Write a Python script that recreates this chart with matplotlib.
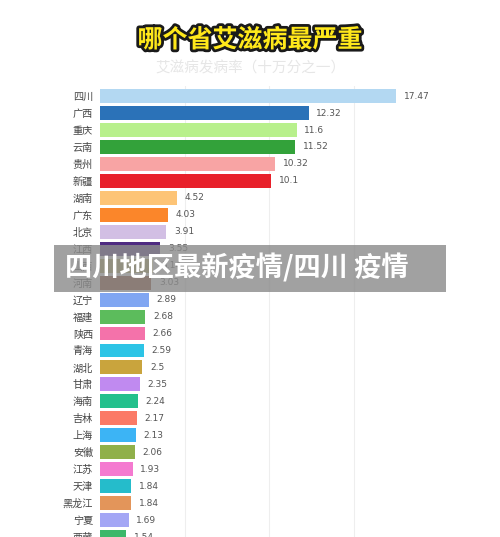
import matplotlib
matplotlib.use("Agg")
import matplotlib.pyplot as plt
import matplotlib.patheffects as pe
from matplotlib.patches import Rectangle

plt.rcParams['font.family'] = ['Noto Sans CJK SC', 'DejaVu Sans']

# data
provinces = ['四川', '广西', '重庆', '云南', '贵州', '新疆', '湖南', '广东', '北京',
             '江西', '山西', '河南', '辽宁', '福建', '陕西', '青海', '湖北', '甘肃',
             '海南', '吉林', '上海', '安徽', '江苏', '天津', '黑龙江', '宁夏', '西藏']
rates = [17.47, 12.32, 11.6, 11.52, 10.32, 10.1, 4.52, 4.03, 3.91,
         3.55, 3.14, 3.03, 2.89, 2.68, 2.66, 2.59, 2.5, 2.35,
         2.24, 2.17, 2.13, 2.06, 1.93, 1.84, 1.84, 1.69, 1.54]
colors = ['#b3d8f2', '#2b72b8', '#b8f08c', '#33a23a', '#f8a4a4', '#e8202a',
          '#fdc476', '#fb862a', '#d2bfe4', '#4e2a82', '#b0a24e', '#8a3f1a',
          '#80a6f2', '#5cbc5c', '#f472aa', '#2cc4e6', '#c9a43d', '#c08af0',
          '#24c08c', '#fb7a66', '#3cb4f5', '#90b04a', '#f47ad0', '#25bccb',
          '#e3955a', '#a3a6f5', '#3cb86a']

fig = plt.figure(figsize=(5.0, 5.37), dpi=100)
ax = fig.add_axes([0.2, 0.0, 0.8, 0.84])

ypos = list(range(len(provinces)))
ax.barh(ypos, rates, height=0.82, color=colors, zorder=2)
for y, v in zip(ypos, rates):
    ax.text(v + 0.45, y, f'{v:g}', va='center', ha='left', fontsize=6.5,
            color='#555555', family=['DejaVu Sans'])

ax.set_xlim(0, 23.6)
ax.set_ylim(26.0, -0.6)
ax.set_yticks(ypos)
ax.set_yticklabels(provinces, fontsize=7.3, color='#444444')
ax.tick_params(axis='y', length=0, pad=5)
ax.set_xticks([5, 10, 15])
ax.tick_params(axis='x', length=0, labelbottom=False)
ax.grid(axis='x', color='#eeeeee', linewidth=0.8, zorder=0)
for s in ax.spines.values():
    s.set_visible(False)

# title and subtitle
fig.text(0.5, 0.925, '哪个省艾滋病最严重', ha='center', va='center', fontsize=18,
         fontweight='bold', color='#ffe81a',
         path_effects=[pe.withStroke(linewidth=4, foreground='#1a1a1a')])
fig.text(0.5, 0.873, '艾滋病发病率（十万分之一）', ha='center', va='center',
         fontsize=10.5, color='#e6e6e6')

# overlay banner
fig.patches.append(Rectangle((54 / 500, 1 - 292 / 537), 392 / 500, 47 / 537,
                             transform=fig.transFigure, facecolor='#8c8c8c',
                             alpha=0.82, edgecolor='none', zorder=5))
fig.text(65 / 500, 1 - 268 / 537, '四川地区最新疫情/四川 疫情', ha='left', va='center',
         fontsize=19.6, fontweight='bold', color='white', zorder=6)

fig.savefig('out.png', dpi=100)
